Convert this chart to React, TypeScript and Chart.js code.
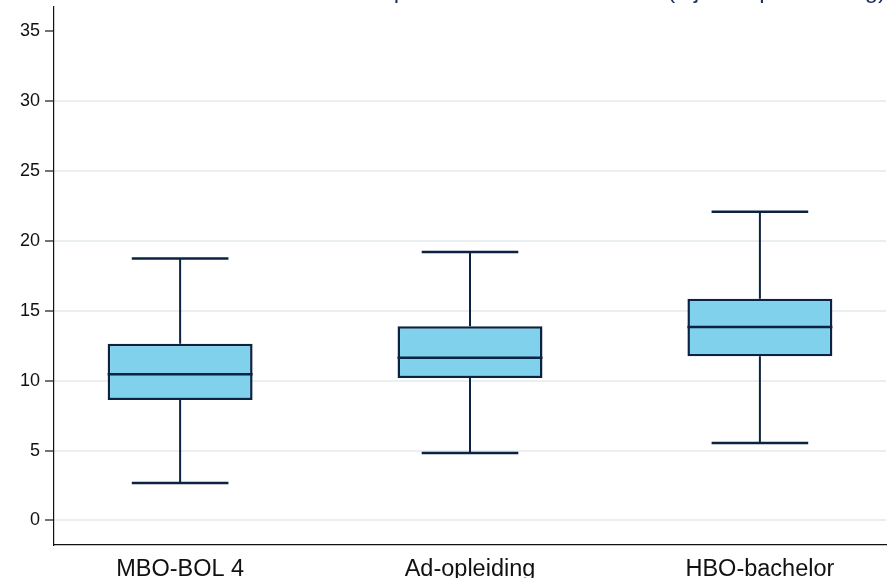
import React, { useEffect, useRef } from 'react';
import { Chart, registerables } from 'chart.js';

Chart.register(...registerables);

const categories = ['MBO-BOL 4', 'Ad-opleiding', 'HBO-bachelor'];
const whiskerLow = [2.68, 4.82, 5.54];
const q1 = [8.61, 10.19, 11.75];
const median = [10.46, 11.63, 13.84];
const q3 = [12.64, 13.89, 15.86];
const whiskerHigh = [18.73, 19.19, 22.07];
const yTicks = [0, 5, 10, 15, 20, 25, 30, 35];
const titleText = 'Uren per week naast de studie (bijbaan per leerling)';

const FONT = "'Liberation Sans', Arial, Helvetica, sans-serif";
const BOX_HALF = 0.25;
const CAP_HALF = 1 / 6;
const NAVY = '#0c2242';

export default function App() {
  const ref = useRef<HTMLCanvasElement | null>(null);

  useEffect(() => {
    if (!ref.current) return;
    const pos = (i: number) => i + 1;

    const medianPts: any[] = [];
    const stemPts: any[] = [];
    const capPts: any[] = [];
    categories.forEach((_, i) => {
      const x = pos(i);
      medianPts.push({ x: x - BOX_HALF, y: median[i] }, { x: x + BOX_HALF, y: median[i] }, { x: x + 0.5, y: null });
      stemPts.push({ x, y: q3[i] }, { x, y: whiskerHigh[i] }, { x, y: null });
      stemPts.push({ x, y: whiskerLow[i] }, { x, y: q1[i] }, { x, y: null });
      capPts.push({ x: x - CAP_HALF, y: whiskerHigh[i] }, { x: x + CAP_HALF, y: whiskerHigh[i] }, { x, y: null });
      capPts.push({ x: x - CAP_HALF, y: whiskerLow[i] }, { x: x + CAP_HALF, y: whiskerLow[i] }, { x, y: null });
    });

    const chart = new Chart(ref.current, {
      type: 'bar',
      data: {
        datasets: [
          {
            type: 'line',
            data: medianPts,
            borderColor: NAVY,
            borderWidth: 2.5,
            pointRadius: 0,
            spanGaps: false,
            order: 0,
          } as any,
          {
            type: 'bar',
            data: categories.map((_, i) => ({ x: pos(i), y: [q1[i], q3[i]] })),
            backgroundColor: '#80d1ec',
            borderColor: NAVY,
            borderWidth: 2.5,
            borderSkipped: false,
            barPercentage: 0.5,
            categoryPercentage: 1,
            order: 1,
          } as any,
          {
            type: 'line',
            data: stemPts,
            borderColor: NAVY,
            borderWidth: 2,
            pointRadius: 0,
            spanGaps: false,
            order: 2,
          } as any,
          {
            type: 'line',
            data: capPts,
            borderColor: NAVY,
            borderWidth: 2.5,
            pointRadius: 0,
            spanGaps: false,
            order: 2,
          } as any,
        ],
      },
      options: {
        animation: false,
        responsive: true,
        maintainAspectRatio: false,
        layout: { padding: { left: 15, right: 9, top: 0, bottom: 3 } },
        plugins: {
          legend: { display: false },
          tooltip: { enabled: false },
          title: {
            display: true,
            text: titleText,
            align: 'end',
            color: '#1d2f5e',
            font: { size: 24, family: FONT, weight: 'normal' },
            padding: { top: 7, bottom: 1 },
          },
        },
        scales: {
          x: {
            type: 'linear',
            min: 0.565,
            max: 3.435,
            offset: false,
            afterBuildTicks: (s: any) => {
              s.ticks = categories.map((_, i) => ({ value: pos(i) }));
            },
            ticks: {
              callback: (v: any) => categories[Math.round(v) - 1] ?? '',
              font: { size: 23.5, family: FONT },
              color: '#111',
              padding: 11,
              maxRotation: 0,
              autoSkip: false,
            },
            grid: { display: false, drawTicks: false, offset: false },
            border: { color: '#111', width: 1.2 },
          },
          y: {
            type: 'linear',
            min: -1.74,
            max: 36.73,
            afterBuildTicks: (s: any) => {
              s.ticks = yTicks.map((v) => ({ value: v }));
            },
            ticks: {
              font: { size: 18, family: FONT },
              color: '#111',
              padding: 5,
              autoSkip: false,
            },
            grid: {
              color: (c: any) => (c.tick && c.tick.value === 35 ? 'rgba(0,0,0,0)' : '#eaeff1'),
              lineWidth: 2,
              tickColor: '#444',
              tickLength: 9,
              tickWidth: 1.5,
            },
            border: { color: '#111', width: 1.2 },
          },
        },
      } as any,
    });
    return () => chart.destroy();
  }, []);

  return (
    <div style={{ position: 'fixed', left: 0, top: 0, width: 895, height: 578, overflow: 'hidden', background: '#fff' }}>
      <div style={{ position: 'absolute', left: 0, top: -30, width: 895, height: 628 }}>
        <canvas ref={ref} />
      </div>
    </div>
  );
}
